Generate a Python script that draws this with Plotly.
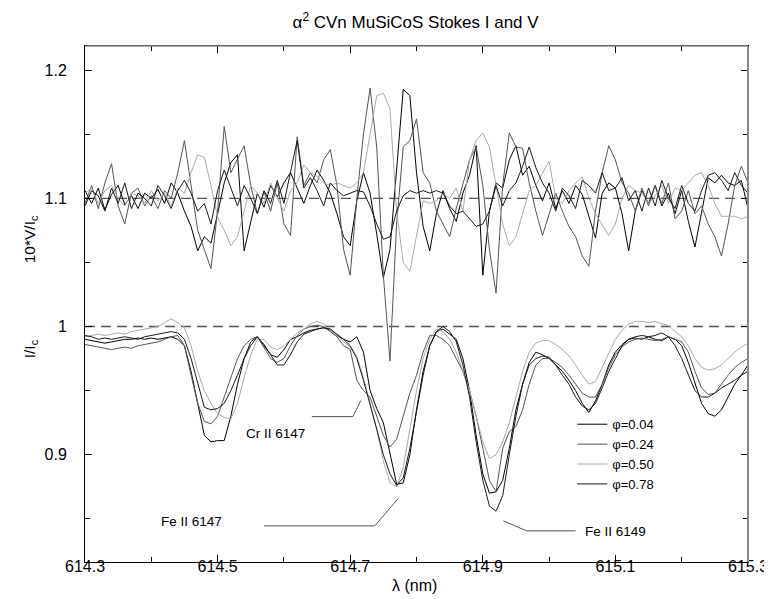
import numpy as np
import plotly.graph_objects as go

# wavelength sampling (nm)
wavelength = np.round(np.arange(614.30, 615.305, 0.01), 2)

phases = ["φ=0.04", "φ=0.24", "φ=0.50", "φ=0.78"]

# Stokes I / Ic
I_004 = [0.990, 0.989, 0.988, 0.987, 0.988, 0.989, 0.990, 0.990, 0.991, 0.990,
         0.991, 0.990, 0.991, 0.992, 0.990, 0.985, 0.965, 0.940, 0.915, 0.910,
         0.911, 0.911, 0.930, 0.955, 0.975, 0.988, 0.992, 0.985, 0.978, 0.976,
         0.982, 0.990, 0.992, 0.995, 0.997, 0.998, 0.999, 0.997, 0.993, 0.990,
         0.988, 0.992, 0.980, 0.950, 0.936, 0.925, 0.900, 0.877, 0.878, 0.900,
         0.935, 0.965, 0.985, 0.996, 0.998, 0.994, 0.990, 0.975, 0.950, 0.915,
         0.885, 0.870, 0.871, 0.880, 0.905, 0.935, 0.955, 0.972, 0.980, 0.978,
         0.975, 0.970, 0.965, 0.958, 0.950, 0.940, 0.933, 0.942, 0.955, 0.970,
         0.980, 0.986, 0.990, 0.991, 0.990, 0.992, 0.990, 0.989, 0.992, 0.990,
         0.985, 0.972, 0.955, 0.940, 0.932, 0.930, 0.935, 0.945, 0.955, 0.962,
         0.970]
I_024 = [0.986, 0.985, 0.984, 0.983, 0.982, 0.983, 0.984, 0.983, 0.985, 0.986,
         0.987, 0.988, 0.990, 0.992, 0.993, 0.985, 0.962, 0.940, 0.926, 0.924,
         0.930, 0.945, 0.960, 0.975, 0.985, 0.990, 0.992, 0.983, 0.975, 0.972,
         0.975, 0.985, 0.993, 0.998, 1.000, 1.001, 1.000, 0.996, 0.992, 0.985,
         0.982, 0.958, 0.950, 0.945, 0.930, 0.915, 0.906, 0.912, 0.930, 0.948,
         0.962, 0.980, 0.993, 0.993, 0.990, 0.985, 0.975, 0.965, 0.950, 0.930,
         0.905, 0.880, 0.871, 0.905, 0.918, 0.922, 0.935, 0.955, 0.970, 0.975,
         0.975, 0.972, 0.968, 0.962, 0.955, 0.948, 0.945, 0.945, 0.955, 0.968,
         0.978, 0.984, 0.988, 0.990, 0.991, 0.990, 0.989, 0.990, 0.992, 0.990,
         0.988, 0.980, 0.965, 0.952, 0.947, 0.948, 0.955, 0.962, 0.968, 0.972,
         0.975]
I_050 = [0.992, 0.993, 0.994, 0.993, 0.994, 0.995, 0.994, 0.996, 0.997, 0.998,
         0.999, 1.000, 1.003, 1.006, 1.003, 0.999, 0.985, 0.965, 0.950, 0.940,
         0.932, 0.929, 0.928, 0.940, 0.960, 0.978, 0.990, 0.990, 0.984, 0.982,
         0.985, 0.990, 0.995, 0.998, 1.002, 1.004, 1.002, 0.997, 0.993, 0.988,
         0.984, 0.977, 0.960, 0.940, 0.920, 0.895, 0.878, 0.875, 0.890, 0.920,
         0.950, 0.975, 0.990, 0.998, 0.996, 0.990, 0.980, 0.965, 0.950, 0.930,
         0.910, 0.897, 0.900, 0.910, 0.925, 0.945, 0.965, 0.980, 0.987, 0.989,
         0.989, 0.986, 0.982, 0.977, 0.970, 0.962, 0.955, 0.957, 0.968, 0.980,
         0.990, 0.997, 1.002, 1.004, 1.004, 1.003, 1.004, 1.002, 1.001, 0.996,
         0.992, 0.985, 0.975, 0.968, 0.966, 0.967, 0.970, 0.975, 0.980, 0.984,
         0.987]
I_078 = [0.993, 0.992, 0.990, 0.991, 0.990, 0.991, 0.992, 0.991, 0.990, 0.992,
         0.993, 0.994, 0.995, 0.996, 0.995, 0.990, 0.975, 0.955, 0.937, 0.935,
         0.936, 0.940, 0.950, 0.962, 0.975, 0.985, 0.992, 0.986, 0.978, 0.970,
         0.970, 0.978, 0.988, 0.994, 0.996, 0.998, 0.999, 0.998, 0.994, 0.990,
         0.985, 0.975, 0.958, 0.940, 0.920, 0.900, 0.885, 0.876, 0.882, 0.905,
         0.935, 0.962, 0.985, 0.996, 1.000, 0.996, 0.988, 0.970, 0.945, 0.910,
         0.880, 0.860, 0.856, 0.868, 0.900, 0.930, 0.955, 0.970, 0.975, 0.977,
         0.976, 0.970, 0.962, 0.955, 0.945, 0.938, 0.935, 0.940, 0.952, 0.965,
         0.975, 0.985, 0.990, 0.992, 0.993, 0.992, 0.993, 0.995, 0.992, 0.985,
         0.975, 0.962, 0.950, 0.945, 0.945, 0.948, 0.952, 0.955, 0.958, 0.962,
         0.965]

# 10*V/Ic (plotted shifted up by 1.1)
V_004 = [0.006, -0.004, 0.008, -0.009, 0.003, 0.010, -0.005, 0.002, -0.008, 0.004,
         0.000, 0.007, -0.004, 0.012, 0.004, -0.010, -0.022, -0.041, -0.030, -0.035,
         -0.012, 0.012, 0.028, 0.034, -0.041, -0.018, 0.004, -0.007, 0.010, 0.001,
         0.012, 0.020, 0.008, -0.004, 0.010, 0.022, 0.014, 0.004, -0.012, -0.030,
         -0.037, -0.002, 0.020, 0.004, -0.028, -0.062, -0.040, 0.020, 0.085, 0.080,
         0.020, -0.022, -0.041, -0.012, 0.006, -0.008, -0.018, 0.004, 0.018, 0.041,
         -0.060, -0.010, 0.012, 0.008, 0.030, 0.041, 0.018, 0.025, 0.010, -0.002,
         0.012, -0.008, 0.006, -0.004, 0.010, 0.003, -0.015, -0.031, 0.004, 0.012,
         0.008, -0.012, -0.041, -0.010, 0.006, -0.004, 0.010, -0.006, 0.004, -0.012,
         0.006, -0.018, -0.038, -0.010, 0.016, 0.012, 0.018, 0.012, 0.010, 0.014,
         -0.008]
V_024 = [-0.004, 0.010, -0.008, 0.012, 0.027, -0.006, -0.020, 0.004, 0.008, -0.006,
         0.002, -0.008, 0.006, 0.000, 0.020, 0.045, 0.010, -0.025, -0.040, -0.055,
         -0.010, 0.056, 0.020, 0.030, 0.041, 0.010, -0.012, 0.005, -0.010, 0.012,
         -0.020, -0.029, 0.048, 0.010, 0.020, 0.012, 0.030, 0.038, 0.010, -0.040,
         -0.060, 0.000, 0.050, 0.086, 0.040, -0.060, -0.127, -0.020, 0.040, 0.045,
         0.062, 0.020, 0.012, -0.010, -0.020, -0.030, -0.008, 0.012, 0.030, 0.040,
         0.010, -0.040, -0.074, 0.010, 0.051, 0.040, 0.039, 0.012, -0.010, -0.029,
         -0.012, 0.004, -0.010, -0.022, -0.030, -0.045, -0.053, -0.010, 0.020, 0.041,
         0.030, 0.012, 0.004, -0.010, 0.008, -0.006, 0.010, -0.004, 0.012, -0.016,
         -0.010, 0.006, -0.012, -0.006, -0.020, -0.030, -0.045, -0.020, 0.010, 0.025,
         0.012]
V_050 = [0.004, 0.008, -0.004, 0.006, 0.010, 0.000, -0.006, 0.004, 0.002, -0.004,
         0.006, -0.002, 0.004, -0.006, 0.008, 0.004, 0.020, 0.034, 0.032, 0.010,
         -0.015, -0.025, -0.037, -0.030, -0.010, 0.010, 0.004, -0.004, 0.012, 0.000,
         -0.010, 0.006, 0.012, 0.026, 0.020, 0.017, 0.012, 0.010, 0.012, 0.010,
         0.008, 0.012, 0.020, 0.050, 0.080, 0.082, 0.070, -0.010, -0.050, -0.057,
         -0.030, -0.002, -0.004, -0.002, 0.004, 0.000, 0.008, -0.010, 0.030, 0.045,
         0.051, 0.040, 0.010, -0.020, -0.037, -0.030, -0.012, 0.006, 0.010, 0.020,
         0.029, 0.000, -0.004, 0.006, 0.012, 0.017, 0.000, -0.012, -0.020, -0.029,
         -0.020, 0.000, 0.010, 0.006, 0.004, -0.004, 0.002, 0.010, -0.004, 0.008,
         0.006, 0.012, 0.018, 0.020, 0.010, -0.004, -0.014, -0.014, -0.014, -0.016,
         -0.014]
V_078 = [-0.006, 0.006, 0.002, -0.010, 0.008, -0.004, 0.012, -0.008, 0.004, 0.000,
         -0.006, 0.010, 0.002, -0.008, 0.006, 0.014, 0.004, -0.010, -0.004, -0.020,
         0.006, 0.022, 0.008, -0.006, 0.010, 0.000, -0.012, 0.006, -0.004, 0.014,
         -0.004, 0.020, 0.045, 0.008, 0.016, 0.006, -0.006, 0.012, 0.006, 0.002,
         0.004, 0.006, 0.005, -0.006, -0.020, -0.032, -0.030, -0.010, 0.002, 0.006,
         0.004, 0.006, 0.004, 0.006, 0.004, -0.006, -0.012, -0.010, -0.016, -0.022,
         -0.020, -0.010, 0.010, -0.006, 0.006, 0.012, 0.025, 0.040, 0.024, 0.012,
         0.004, -0.010, 0.008, 0.002, -0.008, 0.014, 0.010, 0.004, 0.020, 0.006,
         0.008, 0.016, -0.002, 0.006, -0.010, 0.008, -0.006, 0.014, 0.000, -0.008,
         0.010, -0.004, -0.010, 0.006, 0.018, 0.020, 0.014, 0.006, 0.020, 0.010,
         0.004]

I_series = [I_004, I_024, I_050, I_078]
V_series = [V_004, V_024, V_050, V_078]
colors = ["#000000", "#555555", "#aaaaaa", "#1a1a1a"]
V_OFFSET = 1.1

FONT = "Liberation Sans, Arial, Helvetica, sans-serif"

fig = go.Figure()
for name, I, V, c in zip(phases, I_series, V_series, colors):
    fig.add_trace(go.Scatter(x=wavelength, y=I, mode="lines", name=name,
                             line=dict(color=c, width=1)))
    fig.add_trace(go.Scatter(x=wavelength, y=np.array(V) + V_OFFSET, mode="lines",
                             name=name, showlegend=False,
                             line=dict(color=c, width=1)))

for yv in (1.0, V_OFFSET):
    fig.add_hline(y=yv, line=dict(color="#555555", width=1.3, dash="10px,6px"), layer="below")

# grey top/right frame edges as in the original
fig.add_shape(type="line", xref="paper", yref="paper", x0=1, x1=1, y0=0, y1=1,
              line=dict(color="#888888", width=2))
fig.add_shape(type="line", xref="paper", yref="paper", x0=0, x1=1, y0=1, y1=1,
              line=dict(color="#888888", width=1.5))

# line-identification pointers
pointer = dict(color="#555555", width=1)
fig.add_shape(type="path", xref="x", yref="y", line=pointer,
              path="M 614.642 0.9297 L 614.704 0.9297 L 614.716 0.9422")
fig.add_shape(type="path", xref="x", yref="y", line=pointer,
              path="M 614.570 0.8445 L 614.737 0.8445 L 614.772 0.8656")
fig.add_shape(type="path", xref="x", yref="y", line=pointer,
              path="M 614.931 0.8484 L 614.966 0.8406 L 615.040 0.8406")

ann_font = dict(family=FONT, size=13.5, color="#000000")
fig.add_annotation(x=614.588, y=0.9164, text="Cr II 6147", showarrow=False, font=ann_font)
fig.add_annotation(x=614.461, y=0.8477, text="Fe II 6147", showarrow=False, font=ann_font)
fig.add_annotation(x=615.100, y=0.8398, text="Fe II 6149", showarrow=False, font=ann_font)

# y labels
lab_font = dict(family=FONT, size=15.5, color="#000")
fig.add_annotation(xref="paper", yref="y", x=-0.083, xanchor="center", y=V_OFFSET - 0.032,
                   text="10*V/I<sub>c</sub>", textangle=-90, showarrow=False, font=lab_font)
fig.add_annotation(xref="paper", yref="y", x=-0.083, xanchor="center", y=0.983,
                   text="I/I<sub>c</sub>", textangle=-90, showarrow=False, font=lab_font)
# x label
fig.add_annotation(xref="paper", yref="paper", x=0.497, y=-0.0465, yanchor="middle",
                   text="λ (nm)", showarrow=False, font=dict(family=FONT, size=16, color="#000"))

fig.update_layout(
    width=772, height=599,
    margin=dict(l=77, r=25, t=38, b=45),
    paper_bgcolor="white", plot_bgcolor="white",
    font=dict(family=FONT, size=16, color="#000"),
    title=dict(text="α<sup>2</sup> CVn MuSiCoS Stokes I and V", x=0.528, xanchor="center",
               y=0.976, yanchor="middle", font=dict(family=FONT, size=17, color="#000")),
    showlegend=True,
    legend=dict(x=0.735, y=0.296, xanchor="left", yanchor="top", bgcolor="rgba(0,0,0,0)",
                tracegroupgap=0,
                font=dict(family=FONT, size=13, color="#000"), itemwidth=30),
)
fig.update_xaxes(range=[614.3, 615.3], tick0=614.3, dtick=0.2, ticks="inside", ticklen=7,
                 tickcolor="#000", showline=True, linecolor="#000", linewidth=1, mirror="ticks",
                 showgrid=False, zeroline=False, ticklabelstandoff=-10,
                 tickfont=dict(family=FONT, size=16, color="#000"),
                 minor=dict(dtick=0.1, tick0=614.3, ticks="inside", ticklen=5, tickcolor="#000"))
fig.update_yaxes(range=[0.8163, 1.2188], tick0=0.9, dtick=0.1, ticks="inside", ticklen=7,
                 tickcolor="#000", showline=True, linecolor="#000", linewidth=1, mirror="ticks",
                 showgrid=False, zeroline=False, ticklabelstandoff=14,
                 tickfont=dict(family=FONT, size=16, color="#000"),
                 minor=dict(dtick=0.05, tick0=0.85, ticks="inside", ticklen=5, tickcolor="#000"))

fig.write_html("out.html")
